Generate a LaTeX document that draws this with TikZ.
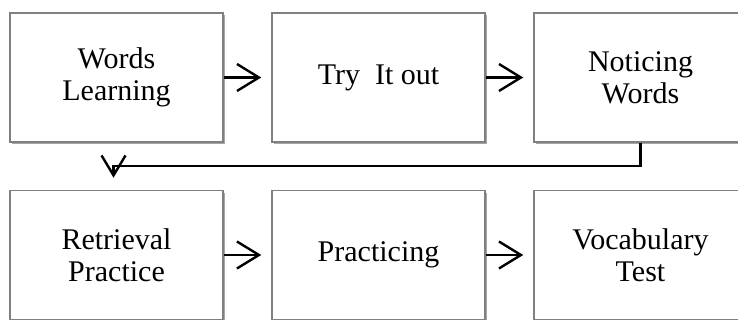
\documentclass[tikz,border=0pt]{standalone}
\usepackage{fontspec}
\setmainfont{Liberation Serif}
\usetikzlibrary{arrows.meta,shadows}
\begin{document}
\begin{tikzpicture}[x=1pt,y=-1pt,
  stepbox/.style={draw=black!50, line width=1.5pt, fill=white,
    minimum width=213pt, minimum height=129pt, inner sep=0pt,
    align=center, font=\fontsize{30}{32}\selectfont,
    drop shadow={shadow xshift=2pt, shadow yshift=-2.5pt, fill=black, opacity=0.35}},
  arr/.style={line width=2.4pt, -{Straight Barb[length=22pt,width=27pt]}}
]
\useasboundingbox (0,0) rectangle (738,320);
\node[stepbox] (b1) at (116.5,77.5) {Words\\Learning};
\node[stepbox] (b2) at (378.5,77.5) {Try\ \ It out};
\node[stepbox] (b3) at (640.5,77.5) {Noticing\\Words};
\node[stepbox] (b4) at (116.5,255) {Retrieval\\Practice};
\node[stepbox] (b5) at (378.5,255) {Practicing};
\node[stepbox] (b6) at (640.5,255) {Vocabulary\\Test};
\draw[arr, shorten >=10pt] (b1.east) -- (b2.west);
\draw[arr, shorten >=10pt] (b2.east) -- (b3.west);
\draw[arr, shorten >=10pt] (b4.east) -- (b5.west);
\draw[arr, shorten >=10pt] (b5.east) -- (b6.west);
\draw[line width=2.4pt, -{Straight Barb[length=20pt,width=24pt]}, shorten >=12pt]
  (b3.south) -- ++(0,23) -| ([xshift=-3pt]b4.north);
\end{tikzpicture}
\end{document}
